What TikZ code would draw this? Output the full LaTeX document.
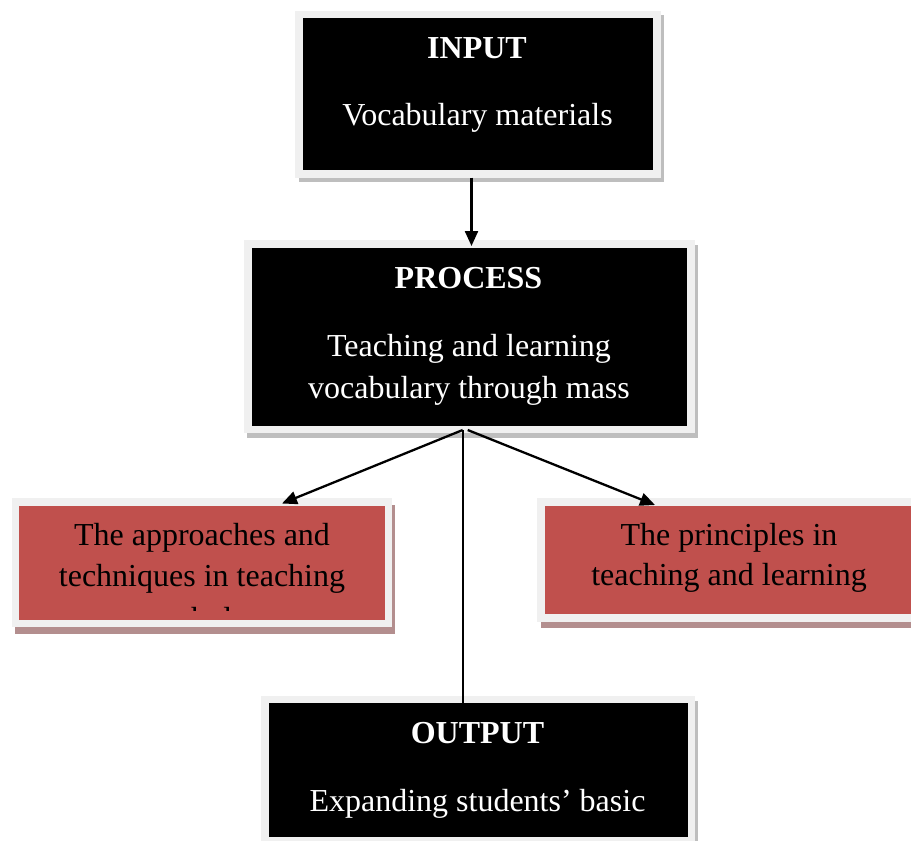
\documentclass[tikz,border=0pt]{standalone}
\usepackage{fontspec}
\setmainfont{Liberation Serif}
\usetikzlibrary{arrows.meta}
\definecolor{framegray}{HTML}{F0F0F0}
\definecolor{shadegray}{HTML}{BEBEBE}
\definecolor{shadered}{HTML}{B38E8E}
\definecolor{boxred}{HTML}{C0504D}
\pgfdeclarelayer{background}
\pgfdeclarelayer{front}
\pgfsetlayers{background,main,front}
\begin{document}
\begin{tikzpicture}[x=1pt,y=-1pt,
  inner/.style={rectangle, inner sep=0pt, outer sep=0pt},
  blackbox/.style={inner, fill=black},
  redbox/.style={inner, fill=boxred},
  wtxt/.style={text=white, inner sep=0pt, anchor=base, font=\fontsize{32}{42}\selectfont},
  wtitle/.style={wtxt, font=\fontsize{32}{42}\selectfont\bfseries},
  ktxt/.style={text=black, inner sep=0pt, anchor=base, font=\fontsize{32}{42}\selectfont},
  arr/.style={line width=2.3pt, -{Triangle[width=13pt,length=15pt]}}]
\clip (0,0) rectangle (911,841);
\useasboundingbox (0,0) rectangle (911,841);

% shadows and frames
\begin{pgfonlayer}{background}
  \fill[shadegray] (298.5,15) rectangle (664,182);
  \fill[framegray] (295,10.5) rectangle (660.5,177.5);
  \fill[shadegray] (246.5,245) rectangle (698,438);
  \fill[framegray] (243.5,240) rectangle (695,433);
  \fill[shadered] (15.2,505) rectangle (395.2,633.7);
  \fill[framegray] (11.7,498) rectangle (391.7,626.7);
  \fill[shadered] (540.5,504) rectangle (922.5,628.2);
  \fill[framegray] (537,497.5) rectangle (919,621.7);
  \fill[shadegray] (264,701) rectangle (698,849);
  \fill[framegray] (261,696) rectangle (695,844);
\end{pgfonlayer}

% inner boxes
\node[blackbox, minimum width=350.3pt, minimum height=151.7pt] (input) at (477.85,94.15) {};
\node[blackbox, minimum width=435pt, minimum height=177.7pt] (process) at (469.2,336.85) {};
\node[redbox, minimum width=366pt, minimum height=114pt] (left) at (202,563) {};
\node[redbox, minimum width=366pt, minimum height=108pt] (right) at (728,560) {};
\begin{pgfonlayer}{front}
  \node[blackbox, minimum width=418.7pt, minimum height=134pt] (output) at (478.35,770) {};
  \node[wtitle] (outt) at (477.5,743.5) {OUTPUT};
  \node[wtxt] (out1) at (477.5,811.7) {Expanding students’ basic};
\end{pgfonlayer}

% texts
\node[wtitle] (int) at (477,58.5) {INPUT};
\node[wtxt] (in1) at (477.5,125) {Vocabulary materials};
\node[wtitle] (prt) at (468.5,288.5) {PROCESS};
\node[wtxt] (pr1) at (469,356.7) {Teaching and learning};
\node[wtxt] (pr2) at (469,398.4) {vocabulary through mass};
\begin{scope}
  \clip (19,506) rectangle (385,610.5);
  \node[ktxt] (le1) at (202,545) {The approaches and};
  \node[ktxt] (le2) at (202,586.7) {techniques in teaching};
  \node[ktxt] (le3) at (202,629) {vocabulary};
\end{scope}
\node[ktxt] (ri1) at (729,545) {The principles in};
\node[ktxt] (ri2) at (729,585.5) {teaching and learning};

% connectors
\coordinate (inb) at (471.5,177.5);
\coordinate (prtop) at (471.5,246);
\coordinate (pl) at (462.7,430);
\coordinate (pr) at (467.7,430);
\coordinate (lt) at (282,503.5);
\coordinate (rt) at (655,505);
\draw[arr] (inb) -- (prtop);
\draw[arr] (pl) -- (lt);
\draw[arr] (pr) -- (rt);
\draw[arr, shorten >=-15pt] (pl) -- (pl |- output.north);
\end{tikzpicture}
\end{document}
